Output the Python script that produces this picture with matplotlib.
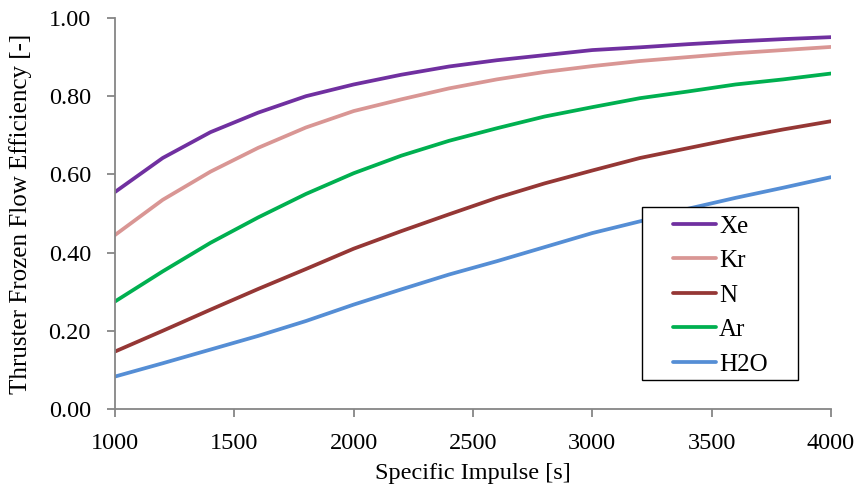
import matplotlib
matplotlib.use("Agg")
import matplotlib.pyplot as plt
from matplotlib.patches import Rectangle

isp = [1000, 1200, 1400, 1600, 1800, 2000, 2200, 2400, 2600, 2800, 3000, 3200, 3400, 3600, 3800, 4000]
xe = [0.555, 0.642, 0.708, 0.758, 0.800, 0.830, 0.855, 0.876, 0.892, 0.905, 0.918, 0.925, 0.933, 0.940, 0.946, 0.951]
kr = [0.445, 0.535, 0.607, 0.668, 0.720, 0.762, 0.792, 0.820, 0.843, 0.862, 0.877, 0.890, 0.900, 0.910, 0.918, 0.926]
n2 = [0.147, 0.200, 0.254, 0.307, 0.358, 0.410, 0.455, 0.498, 0.540, 0.577, 0.610, 0.642, 0.667, 0.692, 0.715, 0.736]
ar = [0.275, 0.352, 0.425, 0.490, 0.550, 0.603, 0.648, 0.686, 0.718, 0.748, 0.772, 0.795, 0.812, 0.830, 0.843, 0.858]
h2o = [0.083, 0.117, 0.152, 0.187, 0.225, 0.267, 0.306, 0.344, 0.378, 0.414, 0.450, 0.480, 0.512, 0.540, 0.566, 0.593]
labels = ["Xe", "Kr", "N", "Ar", "H2O"]
colors = ["#7030A0", "#D99694", "#953735", "#00B050", "#558ED5"]
xticks = [1000, 1500, 2000, 2500, 3000, 3500, 4000]
yticks = [0.0, 0.2, 0.4, 0.6, 0.8, 1.0]

plt.rcParams['font.family'] = ['Liberation Serif', 'DejaVu Serif']
W, H = 866, 497
fig = plt.figure(figsize=(W/100, H/100), dpi=100)
ax = fig.add_axes([115/W, 1-409/H, (831-115)/W, (409-18)/H])

for y, lab, c in zip([xe, kr, n2, ar, h2o], labels, colors):
    ax.plot(isp, y, color=c, lw=2.7, label=lab, solid_capstyle='round')

ax.set_xlim(1000, 4000)
ax.set_ylim(0, 1.0)
ax.set_xticks(xticks)
ax.set_xticklabels([str(v) for v in xticks])
ax.set_yticks(yticks)
ax.set_yticklabels([f"{v:.2f}" for v in yticks])
for s in ["top", "right"]:
    ax.spines[s].set_visible(False)
for s in ["left", "bottom"]:
    ax.spines[s].set_color("#868686")
    ax.spines[s].set_linewidth(1.3)
ax.tick_params(direction='out', length=6, width=1.3, color="#868686", labelsize=17.5)
ax.tick_params(axis='x', pad=11)
ax.tick_params(axis='y', pad=11.3)
ax.set_xlabel("Specific Impulse [s]", fontsize=17.5, labelpad=7)
ax.set_ylabel("Thruster Frozen Flow Efficiency [-]", fontsize=18, labelpad=12)

# legend frame
frame = Rectangle((642/W, 1-380/H), (798-642)/W, (380-207)/H,
                  transform=fig.transFigure, fill=True, facecolor='white',
                  edgecolor='#000000', linewidth=1.0, zorder=5, clip_on=False)
ax.add_patch(frame)
leg = ax.legend(loc='upper left', bbox_to_anchor=(673/W, 1-215/H), bbox_transform=fig.transFigure,
                fontsize=18, frameon=False,
                handlelength=1.72, handletextpad=0.12, labelspacing=0.48,
                borderpad=0, borderaxespad=0)
leg.set_zorder(10)

fig.savefig("out.png", dpi=100)
